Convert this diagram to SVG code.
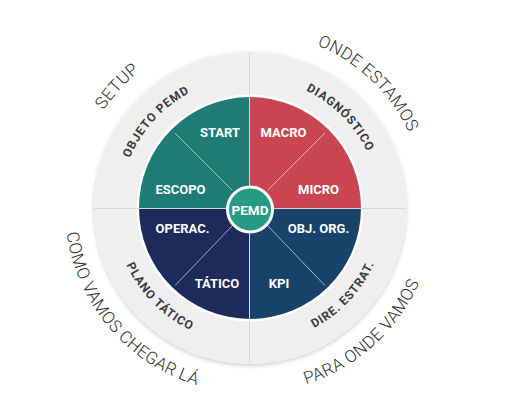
<svg xmlns="http://www.w3.org/2000/svg" width="512" height="420" viewBox="0 0 512 420">
<defs>
<style>
.q{font-family:Roboto,"Liberation Sans",sans-serif;font-weight:700;font-size:13px;fill:#fff;text-anchor:middle}
.rl{font-family:Roboto,"Liberation Sans",sans-serif;font-weight:700;font-size:12px;fill:#3a3a3a;letter-spacing:0.9px}
.ol{font-family:Roboto,"Liberation Sans",sans-serif;font-weight:300;font-size:17px;fill:#2e2e2e;letter-spacing:0.4px}
.ax{stroke:#d6d6d6;stroke-width:1;fill:none}
.dg{stroke:#ffffff;stroke-opacity:0.6;stroke-width:1;fill:none}
</style>
<filter id="sh" x="-10%" y="-10%" width="120%" height="120%">
<feDropShadow dx="0" dy="1.5" stdDeviation="2" flood-color="#000" flood-opacity="0.22"/>
</filter>
<path id="pObj" d="M126.02,247.09 A130,130 0 0 1 278.14,81.08"/>
<path id="pDia" d="M216.35,82.43 A130,130 0 0 1 375.57,241.65"/>
<path id="pPla" d="M118.95,171.66 A136,136 0 0 0 284.05,339.66"/>
<path id="pDir" d="M219.40,340.52 A136,136 0 0 0 380.06,168.23"/>
<path id="pSet" d="M82.15,260.92 A176,176 0 0 1 288.09,36.17"/>
<path id="pOnd" d="M200.02,39.25 A176,176 0 0 1 421.14,249.08"/>
<path id="pCom" d="M75.62,146.25 A185,185 0 0 0 283.71,389.91"/>
<path id="pPar" d="M192.83,383.95 A185,185 0 0 0 430.95,169.54"/>
</defs>
<rect width="512" height="420" fill="#ffffff"/>
<g id="ring">
<circle cx="250" cy="208" r="156" fill="#efefef" filter="url(#sh)"/>
<circle cx="250" cy="208" r="113.5" fill="#ffffff"/>
</g>
<g id="q-start">
<path d="M250,208 L139,208 A111,111 0 0 1 250,97 Z" fill="#1e7c74"/>
</g>
<g id="q-macro">
<path d="M250,208 L250,97 A111,111 0 0 1 361,208 Z" fill="#ca4552"/>
</g>
<g id="q-operac">
<path d="M250,208 L250,319 A111,111 0 0 1 139,208 Z" fill="#1c2b5c"/>
</g>
<g id="q-kpi">
<path d="M250,208 L361,208 A111,111 0 0 1 250,319 Z" fill="#17436a"/>
</g>
<g id="connectors">
<line class="ax" x1="249.5" y1="52" x2="249.5" y2="364"/>
<line class="ax" x1="94" y1="208.5" x2="406" y2="208.5"/>
<line class="dg" x1="232.3" y1="190.3" x2="175.1" y2="133.1"/>
<line class="dg" x1="267.7" y1="190.3" x2="324.9" y2="133.1"/>
<line class="dg" x1="232.3" y1="225.7" x2="175.1" y2="285.5"/>
<line class="dg" x1="267.7" y1="225.7" x2="324.9" y2="285.5"/>
</g>
<g id="quad-labels">
<text class="q" x="220" y="137">START</text>
<text class="q" x="283.5" y="137">MACRO</text>
<text class="q" x="180.5" y="194">ESCOPO</text>
<text class="q" x="318.5" y="194">MICRO</text>
<text class="q" x="182.5" y="233">OPERAC.</text>
<text class="q" x="318.5" y="233">OBJ. ORG.</text>
<text class="q" x="217" y="288">TÁTICO</text>
<text class="q" x="279" y="288">KPI</text>
</g>
<g id="ring-labels">
<text class="rl"><textPath href="#pObj" startOffset="50%" text-anchor="middle">OBJETO PEMD</textPath></text>
<text class="rl"><textPath href="#pDia" startOffset="50%" text-anchor="middle">DIAGNÓSTICO</textPath></text>
<text class="rl"><textPath href="#pPla" startOffset="50%" text-anchor="middle">PLANO TÁTICO</textPath></text>
<text class="rl"><textPath href="#pDir" startOffset="50%" text-anchor="middle">DIRE. ESTRAT.</textPath></text>
</g>
<g id="outer-labels">
<text class="ol"><textPath href="#pSet" startOffset="50%" text-anchor="middle">SETUP</textPath></text>
<text class="ol"><textPath href="#pOnd" startOffset="50%" text-anchor="middle">ONDE ESTAMOS</textPath></text>
<text class="ol"><textPath href="#pCom" startOffset="50%" text-anchor="middle">COMO VAMOS CHEGAR LÁ</textPath></text>
<text class="ol"><textPath href="#pPar" startOffset="50%" text-anchor="middle">PARA ONDE VAMOS</textPath></text>
</g>
<g id="center">
<circle cx="250" cy="209.5" r="22.5" fill="#289a82" stroke="#ffffff" stroke-width="3"/>
<text x="250" y="214.5" font-family="Roboto,'Liberation Sans',sans-serif" font-weight="700" font-size="13.5" fill="#fff" text-anchor="middle">PEMD</text>
</g>
</svg>
